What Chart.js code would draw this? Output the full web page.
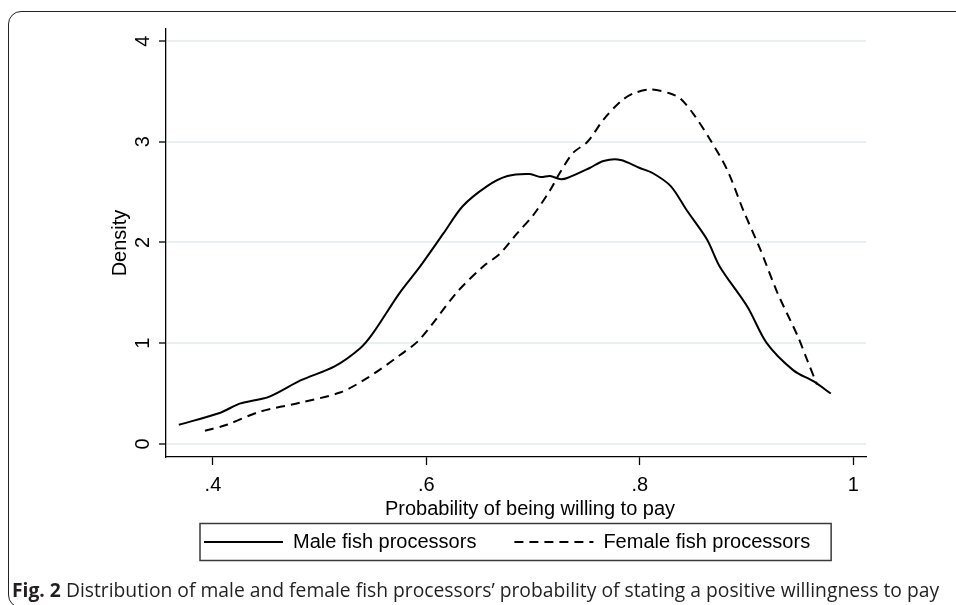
<!DOCTYPE html>
<html><head><meta charset="utf-8">
<script src="https://cdn.jsdelivr.net/npm/chart.js@4"></script>
<style>
html,body{margin:0;padding:0;background:#fff;width:956px;height:605px;overflow:hidden}
#frame{position:absolute;left:8px;top:11px;width:1000px;height:597px;border:1.5px solid #222;border-radius:13px;box-sizing:border-box}
#wrap{position:absolute;left:0;top:0;width:956px;height:605px}
#cap{position:absolute;left:12px;top:578px;font-family:'Open Sans',sans-serif;font-size:19.3px;line-height:24px;color:#231f20;white-space:nowrap}
#cap b{font-weight:700}
</style></head><body>
<div id="frame"></div>
<div id="wrap"><canvas id="c" width="956" height="605"></canvas></div>
<div id="cap"><b>Fig. 2</b> Distribution of male and female fish processors’ probability of stating a positive willingness to pay</div>
<script>
const seriesNames = ['Male fish processors', 'Female fish processors'];
const maleX = [0.368,0.407,0.425,0.453,0.482,0.514,0.538,0.55,0.575,0.594,0.616,0.634,0.657,0.676,0.697,0.707,0.716,0.725,0.732,0.753,0.766,0.782,0.80,0.812,0.829,0.844,0.863,0.875,0.901,0.919,0.944,0.963,0.979];
const maleY = [0.19,0.31,0.40,0.47,0.63,0.77,0.95,1.10,1.50,1.76,2.09,2.36,2.56,2.66,2.68,2.65,2.66,2.63,2.64,2.74,2.81,2.82,2.74,2.69,2.56,2.32,2.03,1.76,1.36,1.00,0.73,0.62,0.50];
const femaleX = [0.3925,0.413,0.444,0.482,0.519,0.544,0.575,0.594,0.629,0.653,0.669,0.685,0.700,0.716,0.725,0.7375,0.751,0.766,0.782,0.794,0.81,0.8285,0.838,0.85,0.866,0.882,0.897,0.913,0.929,0.948,0.957,0.966];
const femaleY = [0.13,0.19,0.32,0.41,0.51,0.65,0.88,1.04,1.51,1.76,1.89,2.09,2.27,2.52,2.69,2.89,3.00,3.22,3.40,3.48,3.52,3.48,3.43,3.28,3.02,2.72,2.32,1.93,1.50,1.07,0.83,0.59];
const xTicks = [0.4, 0.6, 0.8, 1.0];
const xTickLabels = ['.4', '.6', '.8', '1'];
const yTicks = [0, 1, 2, 3, 4];
const yTickLabels = ['0', '1', '2', '3', '4'];
const xTitle = 'Probability of being willing to pay';
const yTitle = 'Density';

const toPts = (xs, ys) => xs.map((x, i) => ({x: x, y: ys[i]}));
const font = {family: '"Liberation Sans", Arial, Helvetica, sans-serif', size: 20};

const extras = {
  id: 'extras',
  afterDraw(chart) {
    const ctx = chart.ctx, a = chart.chartArea;
    ctx.save();
    ctx.font = '20px "Liberation Sans", Arial, sans-serif';
    ctx.fillStyle = '#000';
    ctx.textAlign = 'center';
    ctx.textBaseline = 'alphabetic';
    ctx.fillText(xTitle, (a.left + a.right) / 2 + 14, 515);
    const hb = chart.legend.legendHitBoxes;
    if (hb && hb.length) {
      const l = hb[0].left - 4;
      const last = hb[hb.length - 1];
      const r = last.left + last.width + 21;
      const cy = hb[0].top + hb[0].height / 2;
      ctx.strokeStyle = '#3a3a3a';
      ctx.lineWidth = 1.5;
      ctx.strokeRect(l, cy - 18.5, r - l, 37);
    }
    ctx.restore();
  }
};

new Chart(document.getElementById('c'), {
  type: 'line',
  data: {
    datasets: [
      {label: seriesNames[0], data: toPts(maleX, maleY), borderColor: '#000', backgroundColor: '#000', borderWidth: 2, pointRadius: 0, fill: false, tension: 0.3},
      {label: seriesNames[1], data: toPts(femaleX, femaleY), borderColor: '#000', backgroundColor: '#000', borderWidth: 2, borderDash: [9, 6], pointRadius: 0, fill: false, tension: 0.3}
    ]
  },
  options: {
    responsive: false,
    animation: false,
    layout: {padding: {left: 104, right: 90, top: 29, bottom: 43}},
    plugins: {
      tooltip: {enabled: false},
      legend: {
        position: 'bottom', align: 'start', fullSize: false,
        labels: {
          usePointStyle: true, pointStyle: 'line', pointStyleWidth: 79, padding: 38, color: '#000', font: font,
          generateLabels: chart => Chart.defaults.plugins.legend.labels.generateLabels(chart).map(it => {
            const ds = chart.data.datasets[it.datasetIndex];
            it.lineDash = ds.borderDash || [];
            it.lineWidth = ds.borderWidth;
            it.strokeStyle = ds.borderColor;
            return it;
          })
        }
      }
    },
    scales: {
      x: {
        type: 'linear', min: 0.356, max: 1.012,
        afterBuildTicks: s => { s.ticks = xTicks.map(v => ({value: v})); },
        afterFit: s => { s.height = 37; },
        ticks: {callback: (v, i) => xTickLabels[i], padding: 8, color: '#000', font: font, maxRotation: 0, minRotation: 0},
        grid: {drawOnChartArea: false, drawTicks: true, tickColor: '#000', tickLength: 8, tickWidth: 1.3},
        border: {display: true, color: '#000', width: 1.3}
      },
      y: {
        type: 'linear', min: -0.13, max: 4.12,
        afterBuildTicks: s => { s.ticks = yTicks.map(v => ({value: v})); },
        afterFit: s => { s.width = 62; },
        ticks: {callback: (v, i) => yTickLabels[i], minRotation: 90, maxRotation: 90, crossAlign: 'center', padding: 10, color: '#000', font: font},
        grid: {color: '#e8f0f2', lineWidth: 2, drawTicks: true, tickColor: '#000', tickLength: 7, tickWidth: 1.3},
        border: {display: true, color: '#000', width: 1.3},
        title: {display: true, text: yTitle, color: '#000', font: font, padding: {top: 4, bottom: 4}}
      }
    }
  },
  plugins: [extras]
});
</script>
</body></html>
